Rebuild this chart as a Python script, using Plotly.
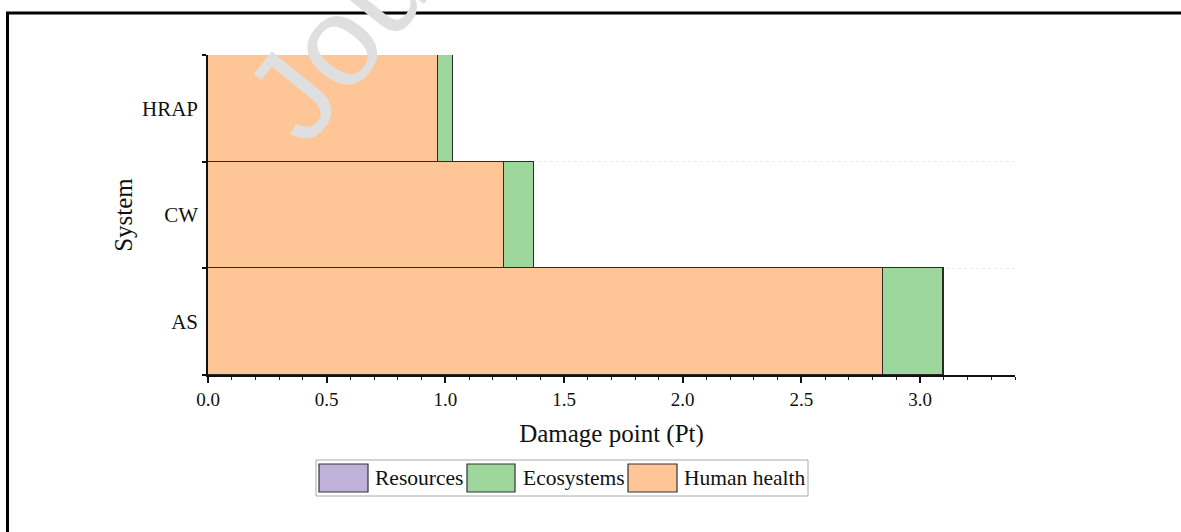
import plotly.graph_objects as go

# ---- data ----
systems = ["AS", "CW", "HRAP"]
human_health = [2.845, 1.248, 0.971]
ecosystems = [0.250, 0.125, 0.062]
resources = [0.004, 0.002, 0.001]
series_names = ["Human health", "Ecosystems", "Resources"]
series_colors = ["#fec596", "#9dd79c", "#c0b1d9"]
x_title = "Damage point (Pt)"
y_title = "System"
watermark = "Journal Pre-proof"

W, H = 1181, 532
L, R, T, B = 208, 1015, 55, 375  # plot area in px


def px(x):
    return (x - L) / (R - L)


def py(y):
    return (B - y) / (B - T)


FONT = "Liberation Serif"
fig = go.Figure()
for name, vals, col in zip(series_names, [human_health, ecosystems, resources], series_colors):
    fig.add_trace(go.Bar(
        y=systems, x=vals, name=name, orientation="h",
        marker=dict(color=col, line=dict(color="#2a2a2a", width=1.4)),
        showlegend=False,
    ))

shapes = []
annotations = []
# outer frame (page crop)
shapes.append(dict(type="line", xref="paper", yref="paper", x0=px(6), x1=px(1185), y0=py(13), y1=py(13),
                   line=dict(color="black", width=3)))
shapes.append(dict(type="line", xref="paper", yref="paper", x0=px(7.5), x1=px(7.5), y0=py(12), y1=py(540),
                   line=dict(color="black", width=3)))

# manual legend (reverse stacking order)
shapes.append(dict(type="rect", xref="paper", yref="paper", x0=px(316), x1=px(808), y0=py(460), y1=py(496),
                   line=dict(color="#a9a9a9", width=1), fillcolor="white"))
leg_sw = [(319, 368), (467, 515), (628, 677)]
leg_tx = [373, 521, 682]
for i, idx in enumerate([2, 1, 0]):
    x0, x1 = leg_sw[i]
    shapes.append(dict(type="rect", xref="paper", yref="paper", x0=px(x0), x1=px(x1), y0=py(464), y1=py(492),
                       line=dict(color="#333333", width=1.2), fillcolor=series_colors[idx]))
    annotations.append(dict(xref="paper", yref="paper", x=px(leg_tx[i]), y=py(478), text=series_names[idx],
                            showarrow=False, xanchor="left", yanchor="middle",
                            font=dict(family=FONT, size=21.5, color="#111")))

# watermark
annotations.append(dict(xref="paper", yref="paper", x=px(582), y=py(-263), text=watermark,
                        showarrow=False, textangle=-51, xanchor="center", yanchor="middle",
                        font=dict(family="Liberation Sans", size=128, color="#dfdfdf")))

fig.update_layout(
    width=W, height=H,
    margin=dict(l=L, r=W - R, t=T, b=H - B),
    barmode="stack", bargap=0,
    plot_bgcolor="white", paper_bgcolor="white",
    font=dict(family=FONT, color="#111"),
    shapes=shapes, annotations=annotations,
    xaxis=dict(
        range=[0, 3.4], tick0=0, dtick=0.5, tickformat=".1f",
        ticks="outside", ticklen=6, tickwidth=1.5, tickcolor="#111",
        minor=dict(dtick=0.1, ticks="outside", ticklen=3, tickwidth=1.2, tickcolor="#111", showgrid=False),
        showline=True, linecolor="#111", linewidth=1.5, showgrid=False, zeroline=False,
        tickfont=dict(family=FONT, size=19, color="#111"),
        title=dict(text=x_title, font=dict(family=FONT, size=25, color="#111"), standoff=16),
    ),
    yaxis=dict(
        tickson="boundaries", ticks="outside", ticklen=4, tickwidth=1.5, tickcolor="#111",
        ticklabelstandoff=4,
        showline=True, linecolor="#111", linewidth=1.5,
        showgrid=True, gridcolor="#ebebeb", griddash="dot", gridwidth=1,
        tickfont=dict(family=FONT, size=21, color="#111"),
        title=dict(text=y_title, font=dict(family=FONT, size=25, color="#111"), standoff=2),
    ),
)

fig.write_html("out.html")
